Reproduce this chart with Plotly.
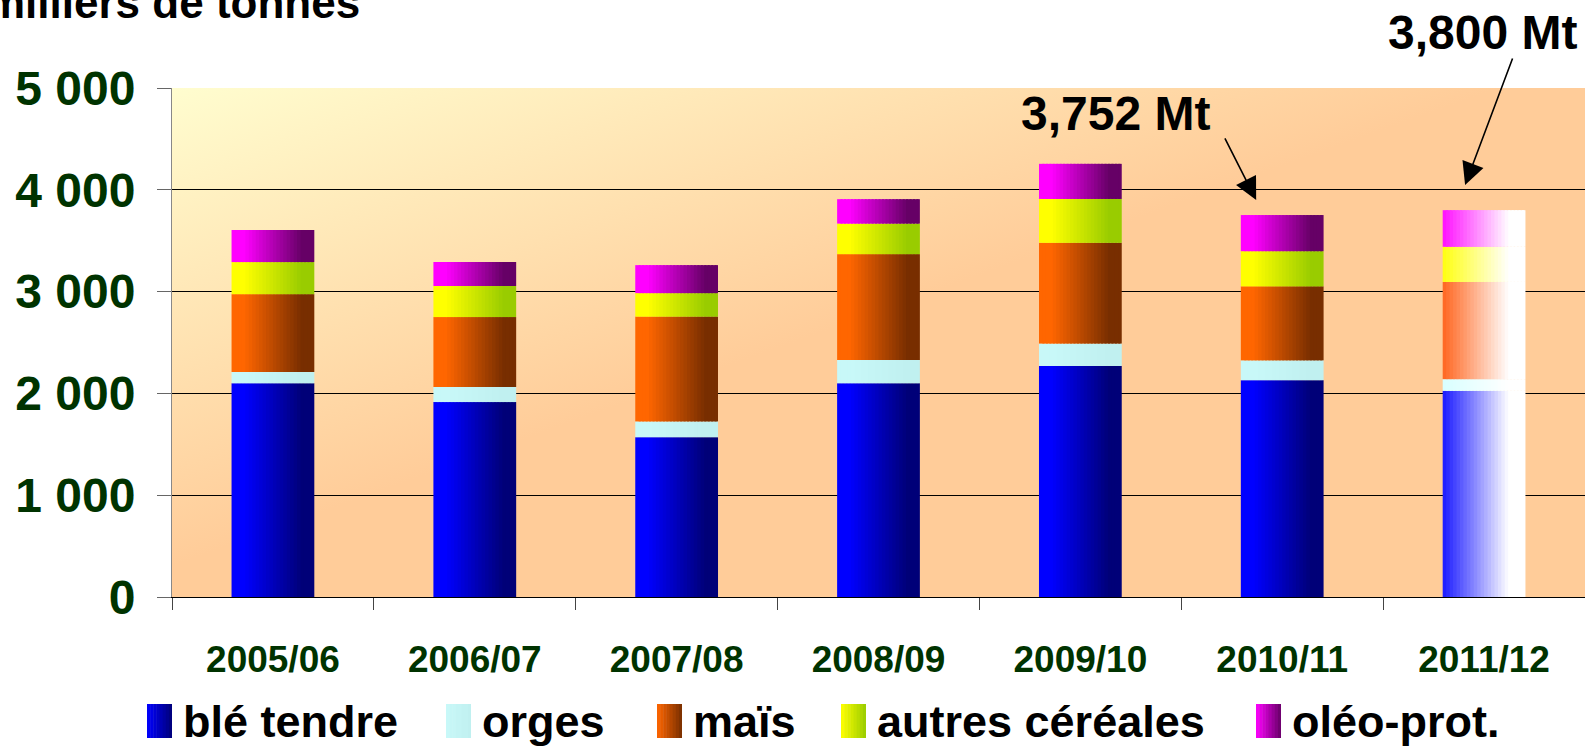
import urllib.parse
import numpy as np
import plotly.graph_objects as go

# données (milliers de tonnes)
campagnes = ['2005/06', '2006/07', '2007/08', '2008/09', '2009/10', '2010/11', '2011/12']
ble_tendre = [2100, 1915, 1570, 2100, 2270, 2130, 2025]
orges = [110, 148, 155, 228, 220, 195, 115]
mais = [765, 687, 1030, 1040, 990, 727, 955]
autres_cereales = [315, 305, 230, 300, 430, 345, 345]
oleo_prot = [315, 236, 275, 240, 345, 355, 360]
series_names = ['blé tendre', 'orges', 'maïs', 'autres céréales', 'oléo-prot.']
y_tickvals = [0, 1000, 2000, 3000, 4000, 5000]
y_ticktext = ['0', '1 000', '2 000', '3 000', '4 000', '5 000']

series = [ble_tendre, orges, mais, autres_cereales, oleo_prot]
left_cols = ['#0000FF', '#C8F8F8', '#FF6600', '#FFFF00', '#FF00FF']
right_cols = ['#000078', '#C0F0F0', '#782E00', '#99CC00', '#660066']
last_cols = ['#1A1AFF', '#D8FFFF', '#FF6620', '#FFFF10', '#FF10FF']

FONT = 'Liberation Sans, Arial, sans-serif'
GREEN = '#003300'
L, T, R, B = 172, 88, 1585, 597  # plot area in pixels


def px(x):
    return (x - L) / (R - L)


def py(y):
    return (B - y) / (B - T)


def mix(c1, c2, t):
    a = np.array([int(c1[i:i + 2], 16) for i in (1, 3, 5)])
    b = np.array([int(c2[i:i + 2], 16) for i in (1, 3, 5)])
    c = np.round(a + (b - a) * t).astype(int)
    return '#%02X%02X%02X' % tuple(c)


fig = go.Figure()

BAR_W = 0.41
N = 24
bottom = np.zeros(len(campagnes))
for i, vals in enumerate(series):
    for k in range(N):
        s = (k + 0.5) / N
        t = float(np.clip((s - 0.15) / 0.7, 0, 1))
        t_last = float(np.clip(s / 0.8, 0, 1))
        cols = [mix(left_cols[i], right_cols[i], t)] * (len(campagnes) - 1)
        cols.append(mix(last_cols[i], '#FFFFFF', t_last))
        w = BAR_W / N
        fig.add_trace(go.Bar(
            x=campagnes, y=vals, base=bottom.copy(),
            offset=-BAR_W / 2 + k * w, width=w * (1.6 if k < N - 1 else 1),
            marker=dict(color=cols, line_width=0),
            name=series_names[i], showlegend=False, hoverinfo='skip'))
    bottom = bottom + np.array(vals)

# fond dégradé de la zone de tracé
svg = ('<svg xmlns="http://www.w3.org/2000/svg" width="1413" height="509" preserveAspectRatio="none">'
       '<defs><linearGradient id="g" x1="0" y1="0" x2="1" y2="1">'
       '<stop offset="0" stop-color="#FFFDCF"/><stop offset="0.47" stop-color="#FFCC99"/>'
       '<stop offset="1" stop-color="#FFCC99"/></linearGradient></defs>'
       '<rect width="100%" height="100%" fill="url(#g)"/></svg>')
bg = 'data:image/svg+xml;charset=utf-8,' + urllib.parse.quote(svg)
fig.add_layout_image(source=bg, xref='paper', yref='paper', x=0, y=1, sizex=1, sizey=1,
                     xanchor='left', yanchor='top', sizing='stretch', layer='below')

# légende manuelle
sw_x = [147, 446, 657, 841, 1256]
for i, name in enumerate(series_names):
    n = 8
    for k in range(n):
        x0 = sw_x[i] + 25 * k / n
        x1 = sw_x[i] + 25 * (k + 1) / n + (0.5 if k < n - 1 else 0)
        fig.add_shape(type='rect', xref='paper', yref='paper',
                      x0=px(x0), x1=px(x1), y0=py(738), y1=py(704),
                      fillcolor=mix(left_cols[i], right_cols[i], (k + 0.5) / n),
                      line_width=0)
    fig.add_annotation(text=name, xref='paper', yref='paper', x=px(sw_x[i] + 34), y=py(722),
                       xanchor='left', yanchor='middle', showarrow=False,
                       font=dict(family=FONT, size=45, color='black', weight='bold'))

# titre de l'axe
fig.add_annotation(text='milliers de tonnes', xref='paper', yref='paper', x=px(-16), y=py(29),
                   xanchor='left', yanchor='bottom', showarrow=False,
                   font=dict(family=FONT, size=44, color='black', weight='bold'))

# annotations Mt
fig.add_annotation(text='3,752 Mt', x=4.173, y=4754, showarrow=False,
                   xanchor='center', yanchor='middle',
                   font=dict(family=FONT, size=48, color='black', weight='bold'))
fig.add_annotation(text='3,800 Mt', xref='paper', yref='paper', x=px(1482), y=py(33),
                   xanchor='center', yanchor='middle', showarrow=False,
                   font=dict(family=FONT, size=48, color='black', weight='bold'))
fig.add_annotation(text='', x=4.871, y=3900, ax=-32, ay=-63, showarrow=True,
                   arrowhead=2, arrowsize=2.8, arrowwidth=1.6, arrowcolor='black')
fig.add_annotation(text='', x=5.906, y=4047, ax=48, ay=-128, showarrow=True,
                   arrowhead=2, arrowsize=2.8, arrowwidth=1.6, arrowcolor='black')

fig.update_layout(
    width=1585, height=750,
    margin=dict(l=L, r=1585 - R, t=T, b=750 - B, autoexpand=False),
    barmode='overlay',
    paper_bgcolor='white', plot_bgcolor='rgba(0,0,0,0)',
    showlegend=False,
    xaxis=dict(type='category', range=[-0.5, 6.5], tickson='boundaries', ticks='outside',
               ticklen=12, tickcolor='#444', showline=True, linecolor='black', linewidth=1,
               showgrid=False, ticklabelstandoff=30, automargin=False,
               tickfont=dict(family=FONT, size=37, color=GREEN, weight='bold')),
    yaxis=dict(range=[0, 5000], tickvals=y_tickvals, ticktext=y_ticktext, ticks='outside',
               ticklen=14, tickcolor='#666', showline=True, linecolor='#888', linewidth=1,
               showgrid=True, gridcolor='black', gridwidth=1, zeroline=False,
               ticklabelstandoff=12, automargin=False,
               tickfont=dict(family=FONT, size=48, color=GREEN, weight='bold')),
)

fig.write_html('out.html', config={'displayModeBar': False},
               post_script="document.body.style.margin='0';document.body.style.overflow='hidden';")
